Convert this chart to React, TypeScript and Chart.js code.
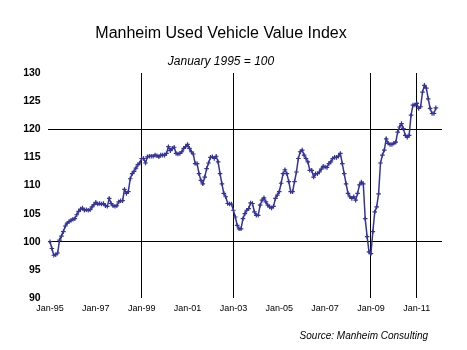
import React, { useEffect, useRef } from 'react';
import { Chart, registerables } from 'chart.js';

Chart.register(...registerables);

const chartTitle = 'Manheim Used Vehicle Value Index';
const chartSubtitle = 'January 1995 = 100';
const sourceNote = 'Source: Manheim Consulting';

// Monthly index values, Jan 1995 .. Nov 2011 (Jan 1995 = 100)
const indexValues = [
  100.0, 98.8, 97.6, 97.7, 98.0, 100.3, 101.0, 101.8, 102.8, 103.3, 103.6, 103.8,
  104.0, 104.1, 104.8, 105.4, 105.8, 106.0, 105.6, 105.7, 105.6, 105.7, 106.2, 106.6,
  107.0, 106.7, 106.8, 106.7, 106.8, 106.4, 106.3, 107.7, 106.8, 106.4, 106.3, 106.4,
  107.1, 107.3, 107.3, 109.3, 108.6, 108.9, 111.2, 112.1, 112.5, 113.1, 113.7, 114.0,
  114.8, 114.8, 114.0, 115.1, 115.2, 115.2, 115.2, 115.4, 115.3, 115.1, 115.4, 115.4,
  115.4, 115.7, 116.9, 116.2, 116.6, 116.8, 115.7, 115.6, 115.7, 116.0, 116.6, 116.9,
  117.3, 116.6, 116.0, 115.6, 113.9, 113.9, 112.1, 110.9, 110.3, 111.5, 113.0, 114.0,
  115.0, 115.1, 114.8, 115.2, 114.2, 112.1, 110.3, 108.6, 108.0, 106.8, 106.7, 106.7,
  105.6, 104.4, 102.9, 102.3, 102.3, 104.1, 105.0, 105.6, 105.9, 106.9, 106.8, 105.3,
  104.7, 104.7, 106.5, 107.4, 107.8, 107.1, 106.5, 106.2, 106.0, 106.3, 107.7, 108.3,
  108.9, 110.4, 112.1, 112.8, 112.1, 110.7, 108.9, 108.9, 110.7, 112.4, 114.8, 116.0,
  116.3, 115.4, 114.8, 114.2, 112.7, 112.7, 111.5, 112.1, 112.1, 112.4, 112.9, 113.4,
  113.3, 113.2, 113.9, 114.2, 114.8, 115.0, 115.0, 115.2, 115.7, 113.9, 112.1, 110.3,
  108.6, 108.0, 107.7, 108.0, 107.4, 108.6, 110.1, 110.6, 110.3, 104.1, 100.9, 98.2,
  97.9, 101.8, 105.3, 106.2, 108.5, 114.0, 115.4, 116.3, 118.3, 117.5, 117.3, 117.3,
  117.5, 117.7, 119.5, 120.4, 121.0, 120.1, 118.9, 118.6, 118.9, 122.5, 124.3, 124.3,
  124.6, 123.7, 124.0, 126.6, 127.8, 127.3, 125.4, 123.7, 122.8, 122.8, 123.8,
];

const xTickMonths = [0, 24, 48, 72, 96, 120, 144, 168, 192];
const xTickLabels = ['Jan-95', 'Jan-97', 'Jan-99', 'Jan-01', 'Jan-03', 'Jan-05', 'Jan-07', 'Jan-09', 'Jan-11'];
const verticalRuleMonths = [48, 96, 168, 192];
const horizontalRuleValues = [100, 120];

const FONT = '"Liberation Sans", Arial, Helvetica, sans-serif';
const LINE_COLOR = '#333399';

export default function App() {
  const canvasRef = useRef<HTMLCanvasElement | null>(null);

  useEffect(() => {
    if (!canvasRef.current) return;

    const sourcePlugin = {
      id: 'sourceNote',
      afterDraw(chart: any) {
        const ctx = chart.ctx;
        ctx.save();
        ctx.font = `italic 10px ${FONT}`;
        ctx.fillStyle = '#000';
        ctx.textAlign = 'right';
        ctx.textBaseline = 'middle';
        ctx.fillText(sourceNote, 428, 336);
        ctx.restore();
      },
    };

    const chart = new Chart(canvasRef.current, {
      type: 'line',
      data: {
        datasets: [
          {
            data: indexValues.map((v, i) => ({ x: i, y: v })),
            borderColor: LINE_COLOR,
            borderWidth: 1.5,
            pointStyle: 'cross',
            pointRadius: 2.3,
            pointBorderWidth: 1.2,
            pointBorderColor: LINE_COLOR,
            pointBackgroundColor: LINE_COLOR,
            tension: 0,
            fill: false,
          },
        ],
      },
      options: {
        responsive: false,
        animation: false,
        layout: { padding: { left: 0, right: 25, top: 0, bottom: 32 } },
        plugins: {
          legend: { display: false },
          tooltip: { enabled: false },
          title: {
            display: true,
            text: chartTitle,
            color: '#000',
            font: { family: FONT, size: 16, weight: 'normal' },
            padding: { top: 23.5, bottom: 0 },
          },
          subtitle: {
            display: true,
            text: chartSubtitle,
            color: '#000',
            font: { family: FONT, size: 12, style: 'italic', weight: 'normal' },
            padding: { top: 11.8, bottom: 4.1 },
          },
        },
        scales: {
          x: {
            type: 'linear',
            min: -1.2,
            max: 205.2,
            afterBuildTicks: (scale: any) => {
              scale.ticks = xTickMonths.map((v) => ({ value: v }));
            },
            afterFit: (scale: any) => {
              scale.height = 20;
            },
            ticks: {
              autoSkip: false,
              maxRotation: 0,
              padding: 5,
              color: '#000',
              font: { family: FONT, size: 9 },
              callback: (_v: any, i: number) => xTickLabels[i],
            },
            grid: {
              drawTicks: false,
              lineWidth: 1,
              color: (ctx: any) =>
                ctx.tick && verticalRuleMonths.includes(ctx.tick.value) ? '#000' : 'rgba(0,0,0,0)',
            },
            border: { display: false },
          },
          y: {
            min: 90,
            max: 130,
            afterFit: (scale: any) => {
              scale.width = 47.7;
            },
            ticks: {
              stepSize: 5,
              padding: 7,
              color: '#000',
              font: { family: FONT, size: 10.5, weight: 'bold' },
            },
            grid: {
              drawTicks: false,
              lineWidth: 1,
              color: (ctx: any) =>
                ctx.tick && horizontalRuleValues.includes(ctx.tick.value) ? '#000' : 'rgba(0,0,0,0)',
            },
            border: { display: false },
          },
        },
      },
      plugins: [sourcePlugin],
    });

    return () => chart.destroy();
  }, []);

  return (
    <div style={{ position: 'fixed', left: 0, top: 0, width: 467, height: 350, background: '#fff' }}>
      <canvas ref={canvasRef} width={467} height={350} />
    </div>
  );
}
